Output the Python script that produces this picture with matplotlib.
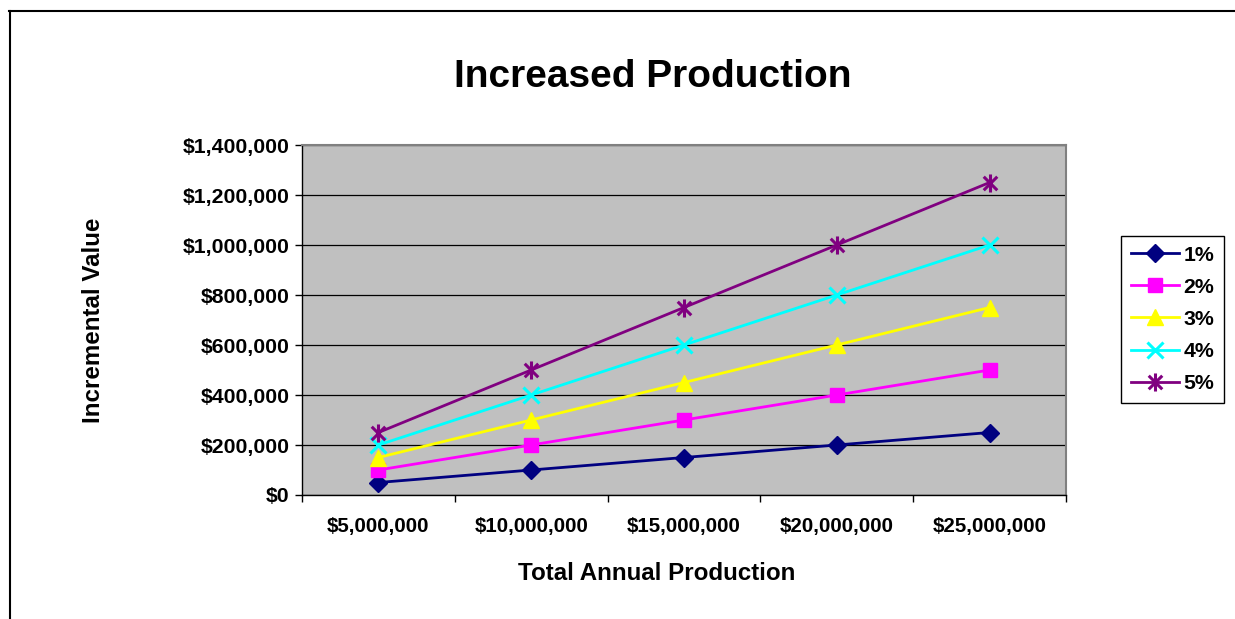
import matplotlib
matplotlib.use("Agg")
import matplotlib.pyplot as plt
from matplotlib.lines import Line2D
from matplotlib.path import Path
from matplotlib.ticker import FuncFormatter, FixedLocator

categories = ["$5,000,000", "$10,000,000", "$15,000,000", "$20,000,000", "$25,000,000"]
series_names = ["1%", "2%", "3%", "4%", "5%"]
s1 = [50000, 100000, 150000, 200000, 250000]
s2 = [100000, 200000, 300000, 400000, 500000]
s3 = [150000, 300000, 450000, 600000, 750000]
s4 = [200000, 400000, 600000, 800000, 1000000]
s5 = [250000, 500000, 750000, 1000000, 1250000]
yticks = [0, 200000, 400000, 600000, 800000, 1000000, 1200000, 1400000]

plt.rcParams['font.family'] = ['Liberation Sans', 'DejaVu Sans']
plt.rcParams['font.weight'] = 'bold'

W, H = 1235, 619
fig = plt.figure(figsize=(W / 100, H / 100), dpi=100)
fig.patch.set_facecolor('white')

ax = fig.add_axes([302 / W, 1 - 495 / H, 764 / W, 350 / H])
ax.set_facecolor('#C0C0C0')

star = Path([(0, -1), (0, 1), (-0.75, -0.75), (0.75, 0.75), (-0.75, 0.75), (0.75, -0.75)],
            [Path.MOVETO, Path.LINETO, Path.MOVETO, Path.LINETO, Path.MOVETO, Path.LINETO])

styles = [
    dict(color='#000080', marker='D', ms=9, mfc='#000080', mec='#000080'),
    dict(color='#FF00FF', marker='s', ms=10, mfc='#FF00FF', mec='#FF00FF'),
    dict(color='#FFFF00', marker='^', ms=12, mfc='#FFFF00', mec='#FFFF00'),
    dict(color='#00FFFF', marker='x', ms=11, mew=2.2, mfc='none', mec='#00FFFF'),
    dict(color='#800080', marker=star, ms=13, mew=2.2, mfc='none', mec='#800080'),
]
xs = list(range(len(categories)))
for name, vals, st in zip(series_names, [s1, s2, s3, s4, s5], styles):
    ax.plot(xs, vals, lw=2, label=name, zorder=3, **st)

ax.set_xlim(-0.5, len(categories) - 0.5)
ax.set_ylim(0, 1400000)
ax.set_yticks(yticks)
ax.yaxis.set_major_formatter(FuncFormatter(lambda v, p: "${:,.0f}".format(v)))
ax.grid(axis='y', color='black', lw=0.9, zorder=1)
ax.set_axisbelow(True)

ax.xaxis.set_major_locator(FixedLocator([i - 0.5 for i in range(len(categories) + 1)]))
ax.xaxis.set_minor_locator(FixedLocator(xs))
ax.set_xticklabels([])
ax.set_xticklabels(categories, minor=True)
ax.tick_params(axis='x', which='major', direction='out', length=5, width=1, color='black')
ax.tick_params(axis='x', which='minor', length=0, pad=16, labelsize=14.8)
ax.tick_params(axis='y', direction='out', length=5, width=1, pad=4, labelsize=15.3)
for lab in ax.get_xticklabels(minor=True) + ax.get_yticklabels():
    lab.set_fontweight('bold')

for side in ['top', 'right']:
    ax.spines[side].set_color('#808080')
    ax.spines[side].set_linewidth(1.5)
for side in ['left', 'bottom']:
    ax.spines[side].set_color('black')
    ax.spines[side].set_linewidth(1)

fig.text(653 / W, 1 - 77 / H, "Increased Production", ha='center', va='center',
         fontsize=28, fontweight='bold')
fig.text(657 / W, 1 - 574 / H, "Total Annual Production", ha='center', va='center',
         fontsize=17.4, fontweight='bold')
fig.text(94 / W, 1 - 320 / H, "Incremental Value", ha='center', va='center',
         fontsize=17.4, fontweight='bold', rotation=90)

leg = fig.legend(loc='upper left', bbox_to_anchor=(1121 / W, 1 - 236 / H),
                 frameon=True, fancybox=False, edgecolor='black', framealpha=1,
                 prop={'weight': 'bold', 'size': 15.3}, handlelength=2.3,
                 handletextpad=0.2, labelspacing=0.62, borderpad=0.45,
                 borderaxespad=0, markerscale=1.0)
leg.get_frame().set_linewidth(1)

fig.add_artist(Line2D([9.5 / W, 9.5 / W], [0, 1 - 11 / H], color='black', lw=1.5,
                      transform=fig.transFigure))
fig.add_artist(Line2D([9 / W, 1], [1 - 11 / H, 1 - 11 / H], color='black', lw=1.5,
                      transform=fig.transFigure))

fig.savefig("out.png", dpi=100)
